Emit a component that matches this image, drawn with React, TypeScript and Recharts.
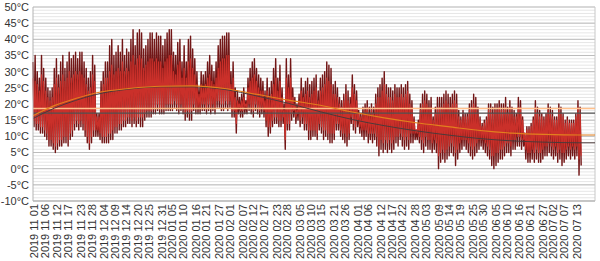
import React from "react"
import { ComposedChart, Line, XAxis, YAxis, CartesianGrid, ReferenceLine } from "recharts"

// x tick labels (one every ~5.4 days)
const tickLabels = [
  "2019 11 01", "2019 11 06", "2019 11 12", "2019 11 17", "2019 11 23", "2019 11 28",
  "2019 12 04", "2019 12 09", "2019 12 14", "2019 12 20", "2019 12 25", "2019 12 31",
  "2020 01 05", "2020 01 10", "2020 01 16", "2020 01 21", "2020 01 27", "2020 02 01",
  "2020 02 07", "2020 02 12", "2020 02 17", "2020 02 23", "2020 02 28", "2020 03 05",
  "2020 03 10", "2020 03 15", "2020 03 21", "2020 03 26", "2020 04 01", "2020 04 06",
  "2020 04 12", "2020 04 17", "2020 04 22", "2020 04 28", "2020 05 03", "2020 05 09",
  "2020 05 14", "2020 05 19", "2020 05 25", "2020 05 30", "2020 06 05", "2020 06 10",
  "2020 06 16", "2020 06 21", "2020 06 27", "2020 07 02", "2020 07 07", "2020 07 13",
]

const yTicks = [-10, -5, 0, 5, 10, 15, 20, 25, 30, 35, 40, 45, 50]
const Y_MIN = -10
const Y_MAX = 50

// daily highs / lows, dark red series (from 2019 11 01)
const darkHigh = [
  33, 35, 30, 28, 35, 31, 28, 25, 24, 25,
  31, 34, 29, 33, 35, 31, 33, 36, 34, 35,
  36, 34, 36, 36, 33, 31, 28, 30, 35, 32,
  17, 17, 27, 30, 33, 33, 38, 40, 35, 36,
  38, 36, 40, 35, 37, 36, 40, 43, 38, 42,
  43, 42, 37, 38, 40, 42, 42, 40, 42, 41,
  41, 38, 40, 42, 43, 43, 36, 35, 39, 40,
  33, 38, 33, 40, 41, 37, 34, 30, 25, 30,
  29, 30, 33, 35, 32, 30, 33, 38, 40, 41,
  41, 42, 42, 30, 33, 25, 24, 22, 23, 25,
  21, 28, 31, 33, 34, 31, 29, 28, 27, 24,
  28, 25, 27, 31, 34, 28, 32, 25, 20, 34,
  29, 34, 25, 22, 20, 23, 28, 25, 27, 28,
  26, 27, 28, 29, 24, 28, 29, 30, 33, 32,
  31, 26, 27, 25, 22, 21, 23, 26, 24, 22,
  29, 26, 24, 18, 17, 19, 20, 21, 19, 20,
  19, 23, 25, 26, 28, 30, 26, 25, 25, 24,
  26, 25, 25, 26, 25, 26, 27, 23, 21, 16,
  12, 15, 20, 23, 24, 23, 21, 22, 16, 19,
  22, 22, 22, 23, 24, 23, 22, 23, 24, 23,
  18, 16, 18, 17, 17, 20, 21, 23, 22, 19,
  16, 14, 15, 16, 20, 20, 19, 20, 20, 21,
  20, 20, 22, 19, 21, 19, 18, 17, 22, 21,
  16, 11, 13, 13, 14, 16, 21, 19, 18, 17,
  16, 17, 20, 19, 18, 16, 16, 20, 19, 17,
  15, 16, 15, 15, 15, 17, 21, 19,
]

const darkLow = [
  13, 12, 12, 11, 11, 10, 9, 7, 7, 6,
  5, 6, 7, 7, 8, 8, 7, 9, 10, 12,
  13, 12, 13, 12, 10, 8, 6, 8, 10, 10,
  10, 9, 8, 8, 8, 8, 9, 9, 11, 11,
  12, 12, 13, 13, 14, 14, 13, 14, 13, 14,
  13, 13, 15, 16, 16, 16, 17, 17, 18, 17,
  17, 17, 18, 18, 18, 18, 19, 18, 17, 18,
  17, 15, 16, 15, 15, 18, 17, 17, 17, 18,
  18, 17, 18, 17, 18, 17, 19, 19, 18, 18,
  19, 18, 19, 16, 16, 11, 17, 16, 16, 17,
  17, 18, 17, 16, 18, 17, 16, 17, 16, 13,
  10, 11, 13, 14, 14, 13, 13, 14, 6, 12,
  12, 15, 16, 14, 15, 13, 14, 12, 12, 9,
  9, 10, 10, 9, 12, 11, 9, 10, 9, 8,
  8, 9, 12, 12, 10, 9, 8, 7, 9, 14,
  12, 11, 13, 11, 10, 9, 10, 8, 9, 8,
  9, 7, 4, 6, 5, 6, 5, 6, 5, 6,
  8, 7, 9, 7, 6, 7, 6, 8, 8, 9,
  9, 8, 6, 5, 7, 6, 6, 5, 6, 5,
  0, 2, 3, 2, 3, 4, 5, 4, 1, 3,
  5, 6, 7, 6, 5, 4, 3, 4, 5, 6,
  7, 6, 5, 4, 3, 1, 0, 1, 2, 3,
  3, 4, 5, 5, 4, 6, 6, 7, 7, 6,
  7, 3, 2, 2, 3, 2, 3, 2, 2, 3,
  4, 4, 5, 4, 3, 4, 2, 3, 1, 2,
  3, 4, 3, 4, 3, 4, -2, 1,
]

// daily highs / lows, red series
const redHigh = [
  28, 27, 26, 24, 29, 27, 24, 22, 21, 22,
  26, 28, 25, 27, 29, 27, 28, 30, 28, 29,
  30, 29, 30, 29, 28, 26, 24, 25, 29, 27,
  16, 16, 24, 26, 28, 28, 30, 32, 29, 30,
  31, 30, 33, 30, 31, 30, 33, 35, 32, 34,
  35, 34, 31, 32, 33, 34, 34, 33, 34, 33,
  33, 31, 33, 34, 35, 35, 30, 29, 32, 33,
  28, 31, 28, 33, 34, 31, 29, 26, 23, 26,
  25, 26, 28, 29, 27, 26, 28, 31, 33, 34,
  34, 35, 35, 26, 28, 22, 21, 20, 21, 22,
  20, 25, 27, 28, 29, 27, 25, 24, 24, 21,
  24, 22, 23, 26, 28, 24, 27, 22, 18, 28,
  25, 28, 22, 20, 18, 21, 24, 22, 23, 24,
  22, 23, 24, 25, 21, 24, 25, 26, 28, 27,
  26, 23, 23, 22, 20, 19, 21, 23, 21, 20,
  25, 23, 21, 17, 16, 17, 18, 19, 17, 18,
  17, 20, 22, 22, 24, 26, 23, 22, 22, 21,
  23, 22, 22, 23, 22, 23, 24, 20, 19, 15,
  12, 14, 18, 20, 21, 20, 19, 19, 15, 17,
  19, 19, 19, 20, 21, 20, 19, 20, 21, 20,
  16, 15, 16, 16, 16, 18, 19, 20, 19, 17,
  15, 13, 14, 15, 18, 18, 17, 18, 18, 19,
  18, 18, 19, 17, 19, 17, 16, 16, 19, 19,
  15, 11, 12, 12, 13, 15, 19, 17, 16, 16,
  15, 16, 18, 17, 16, 15, 15, 18, 17, 16,
  14, 15, 14, 14, 14, 16, 19, 17,
]

const redLow = [
  15, 14, 14, 13, 13, 12, 11, 9, 9, 8,
  7, 8, 9, 9, 10, 10, 9, 11, 12, 14,
  15, 14, 15, 14, 12, 10, 8, 10, 12, 12,
  12, 11, 10, 10, 10, 11, 11, 12, 13, 13,
  14, 14, 15, 15, 16, 16, 15, 16, 15, 16,
  16, 16, 17, 18, 18, 18, 19, 19, 20, 19,
  19, 19, 20, 20, 20, 20, 21, 20, 19, 20,
  19, 17, 18, 17, 18, 20, 19, 19, 19, 20,
  20, 19, 20, 19, 20, 19, 21, 21, 20, 20,
  21, 20, 21, 18, 18, 14, 19, 18, 18, 19,
  19, 20, 19, 18, 20, 19, 18, 19, 18, 15,
  13, 13, 15, 16, 16, 15, 15, 16, 9, 14,
  14, 17, 18, 16, 17, 15, 16, 14, 14, 12,
  12, 12, 12, 11, 14, 13, 12, 12, 11, 11,
  11, 11, 14, 14, 12, 11, 11, 10, 11, 16,
  14, 13, 15, 13, 12, 12, 12, 11, 11, 11,
  11, 10, 7, 9, 8, 9, 8, 9, 8, 9,
  10, 10, 11, 10, 9, 10, 9, 11, 11, 11,
  11, 10, 9, 8, 10, 9, 9, 8, 9, 8,
  4, 5, 6, 5, 6, 7, 8, 7, 5, 6,
  8, 9, 9, 9, 8, 7, 6, 7, 8, 9,
  9, 9, 8, 7, 6, 4, 4, 5, 5, 6,
  6, 7, 8, 8, 7, 9, 9, 10, 10, 9,
  9, 6, 5, 5, 6, 5, 6, 5, 5, 6,
  7, 7, 8, 7, 6, 7, 5, 6, 5, 5,
  6, 7, 6, 7, 6, 7, 3, 4,
]

// trend curves, read at a few days
const trendDays = [0, 10, 20, 30, 45, 60, 75, 90, 105, 120, 135, 150, 165, 180, 195, 210, 225, 240, 257, 264]
const trendRed = [16.4, 19.5, 21.7, 23.5, 24.8, 25.5, 25.6, 24.8, 23.0, 21.2, 19.6, 17.5, 15.7, 14.2, 13.0, 11.8, 11.0, 10.6, 10.4, 10.4]
const trendDark = [15.5, 18.7, 21.1, 23.0, 24.6, 25.3, 25.3, 24.5, 22.5, 20.2, 17.6, 15.2, 13.3, 11.7, 10.4, 9.3, 8.6, 8.2, 8.0, 8.0]

const meanRed = 18.6
const meanDark = 17.2

const START = Date.UTC(2019, 10, 1)
const dayOf = (s: string) => {
  const [y, m, d] = s.split(" ").map(Number)
  return (Date.UTC(y, m - 1, d) - START) / 86400000 + 0.5
}
const tickDays = tickLabels.map(dayOf)

const rows: any[] = []
darkHigh.forEach((_, i) => {
  rows.push({ t: i, dark: darkHigh[i], red: redHigh[i] })
  rows.push({ t: i + 0.5, dark: darkLow[i], red: redLow[i] })
})

const trendRows = trendDays.map((t, i) => ({ t, tr: trendRed[i], td: trendDark[i] }))

// one faint grid line per degree
const minorTicks = Array.from({ length: Y_MAX - Y_MIN + 1 }, (_, i) => i + Y_MIN)

const minorGrid = ({ yAxis, offset }: any) => {
  const s = yAxis?.scale
  return minorTicks.map((v) => {
    if (typeof s === "function") return s(v)
    if (s && typeof s.map === "function") return s.map(v)
    return offset.top + ((Y_MAX - v) / (Y_MAX - Y_MIN)) * offset.height
  })
}

const FONT = "'Liberation Sans', Arial, sans-serif"

function DateTick(props: any) {
  const { x, y, payload } = props
  const idx = tickDays.indexOf(payload.value)
  return (
    <text
      x={x}
      y={y}
      transform={`rotate(-90, ${x}, ${y})`}
      textAnchor="end"
      dy={4}
      fontSize={11}
      fill="#333"
      fontFamily={FONT}
    >
      {tickLabels[idx]}
    </text>
  )
}

export default function App() {
  return (
    <div style={{ position: "absolute", left: 0, top: 0, width: 600, height: 261, background: "#fff" }}>
      <ComposedChart width={600} height={261} data={rows} margin={{ top: 7, right: 5, bottom: 0, left: 0 }}>
        <CartesianGrid vertical={false} stroke="#e6e6e6" horizontalCoordinatesGenerator={minorGrid} />
        <CartesianGrid vertical={false} stroke="#bdbdbd" />
        <XAxis
          type="number"
          dataKey="t"
          domain={[0, 264]}
          ticks={tickDays}
          interval={0}
          height={60}
          tickLine={false}
          tickSize={0}
          tickMargin={3}
          axisLine={{ stroke: "#b3b3b3" }}
          tick={<DateTick />}
        />
        <YAxis
          domain={[Y_MIN, Y_MAX]}
          ticks={yTicks}
          interval={0}
          width={33}
          tickLine={false}
          tickSize={2}
          tickMargin={2}
          axisLine={{ stroke: "#b3b3b3" }}
          tickFormatter={(v: number) => `${v}°C`}
          tick={{ fontSize: 11, fill: "#333", fontFamily: FONT }}
        />
        <ReferenceLine x={264} stroke="#c8c8c8" />
        <Line
          type="linear"
          dataKey="dark"
          stroke="#721616"
          strokeWidth={1.4}
          strokeLinejoin="round"
          dot={false}
          isAnimationActive={false}
        />
        <Line
          type="linear"
          dataKey="red"
          stroke="#d9352e"
          strokeWidth={1.2}
          strokeOpacity={0.85}
          strokeLinejoin="round"
          dot={false}
          isAnimationActive={false}
        />
        <ReferenceLine y={meanRed} stroke="#ffc08c" strokeWidth={1.5} />
        <ReferenceLine y={meanDark} stroke="#505050" strokeWidth={1.2} />
        <Line
          data={trendRows}
          type="monotone"
          dataKey="td"
          stroke="#4a3a3a"
          strokeWidth={1}
          dot={false}
          isAnimationActive={false}
        />
        <Line
          data={trendRows}
          type="monotone"
          dataKey="tr"
          stroke="#e2801e"
          strokeWidth={1.1}
          dot={false}
          isAnimationActive={false}
        />
      </ComposedChart>
    </div>
  )
}
